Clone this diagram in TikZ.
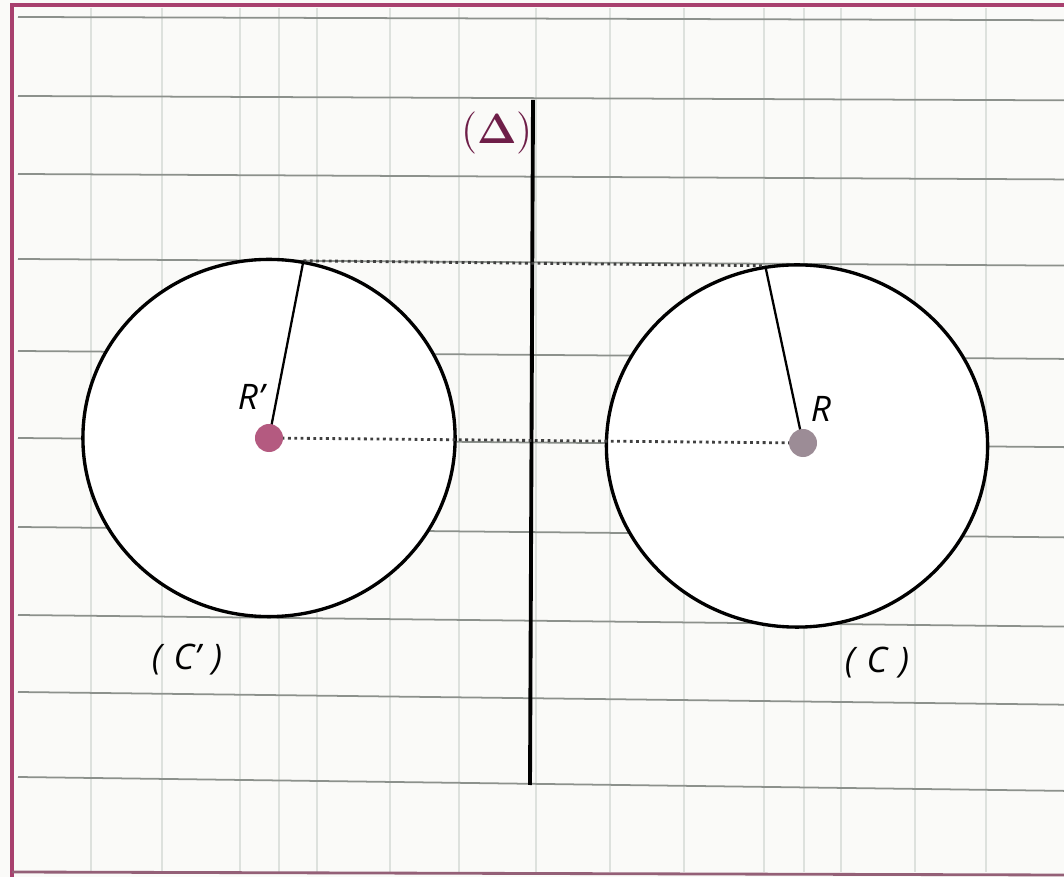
\documentclass[tikz,border=0pt]{standalone}
\usepackage{amsmath}
\usepackage{fontspec}
\usepackage{xcolor}
\usepackage{tikz}
\usetikzlibrary{shapes.geometric}
\newfontfamily\labelfont{Open Sans}
\definecolor{paper}{HTML}{FAFAF8}
\definecolor{rulecol}{HTML}{8C918C}
\definecolor{gridcol}{HTML}{DDE1DD}
\definecolor{framecol}{HTML}{A8406E}
\definecolor{deltacol}{HTML}{6E1E48}
\definecolor{dotleft}{HTML}{B45A80}
\definecolor{dotright}{HTML}{9C8C96}

\begin{document}
\begin{tikzpicture}[x=0.01cm, y=-0.01cm,
  disc/.style={ellipse, draw=black, line width=0.95pt, fill=white, inner sep=0pt},
  centre/.style={circle, inner sep=0pt, minimum size=0.28cm},
  lbl/.style={font=\labelfont\itshape\fontsize{10}{12}\selectfont, inner sep=1pt},
  guide/.style={densely dotted, line width=0.8pt, black!75}]
\useasboundingbox (0,0) rectangle (1064,877);
\fill[paper] (0,0) rectangle (1064,877);
% squared paper
\foreach \x in {91,162,240,279,317,390,459,536,610,684,764,804,841,915,986}
  \draw[gridcol, line width=0.5pt] (\x,8) -- (\x,872);
\foreach \y in {17,96,174,259,351,438,527,615,692,777}
  \draw[rulecol, line width=0.5pt] (18,\y) -- (1064,{\y*1.014+3});
\draw[framecol, line width=1.2pt] (12,877) -- (12,5) -- (1064,5);
\draw[framecol!50!gray, line width=0.8pt] (12,872) -- (1064,875);
% the two circles
\node[disc, minimum width=3.72cm, minimum height=3.57cm] (Cp) at (269,438) {};
\node[disc, minimum width=3.81cm, minimum height=3.62cm] (C) at (797,446) {};
% axis (Delta)
\coordinate (dtop) at (533,100);
\coordinate (dbot) at (530,785);
\draw[line width=1.1pt] (dtop) -- (dbot);
\node[text=deltacol, font=\fontsize{12}{14}\selectfont] (delta) at (497,133) {(\textbf{Δ})};
% centres and radii
\coordinate (Rp) at (269,438);
\coordinate (R) at (803,443);
\draw[guide] (Cp.79) -- (C.100.5);
\draw[guide] (Rp) -- (R);
\draw[line width=0.65pt] (Rp) -- (Cp.79);
\draw[line width=0.65pt] (R) -- (C.100.5);
\node[centre, fill=dotleft] (Rpdot) at (Rp) {};
\node[centre, fill=dotright] (Rdot) at (R) {};
\node[lbl] (Rplbl) at (251,397) {R’};
\node[lbl] (Rlbl) at (821,409) {R};
\node[lbl] (Cplbl) at (187,660) {(\,\,C’\,\,)};
\node[lbl] (Clbl) at (877,663) {(\,\,C\,\,)};
\end{tikzpicture}
\end{document}
